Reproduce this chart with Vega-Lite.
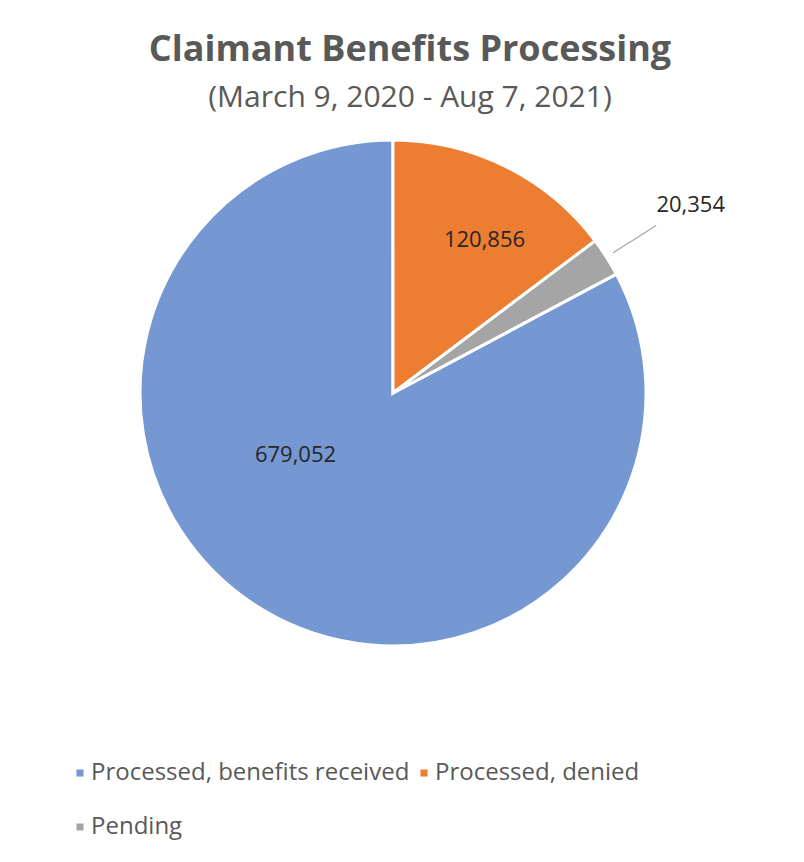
{
  "$schema": "https://vega.github.io/schema/vega-lite/v6.json",
  "autosize": {"type": "none"},
  "width": 746,
  "height": 546,
  "padding": {"left": 20, "top": 120, "right": 38, "bottom": 196},
  "background": "white",
  "config": {"view": {"stroke": null}, "font": "Open Sans"},
  "title": {
    "text": "Claimant Benefits Processing",
    "subtitle": "(March 9, 2020 - Aug 7, 2021)",
    "anchor": "middle",
    "dx": 17,
    "offset": 0,
    "font": "Open Sans",
    "fontSize": 36,
    "fontWeight": "bold",
    "color": "#595959",
    "subtitleFont": "Open Sans",
    "subtitleFontSize": 30,
    "subtitleColor": "#595959",
    "subtitlePadding": 14
  },
  "data": {
    "values": [
      {"category": "Processed, benefits received", "value": 679052},
      {"category": "Processed, denied", "value": 120856},
      {"category": "Pending", "value": 20354}
    ]
  },
  "encoding": {
    "theta": {"field": "value", "type": "quantitative", "stack": true, "scale": {"range": [1.0816, 7.3648]}},
    "order": {"field": "value", "type": "quantitative", "sort": "descending"}
  },
  "layer": [
    {
      "mark": {"type": "arc", "outerRadius": 253, "stroke": "white", "strokeWidth": 3},
      "encoding": {
        "color": {
          "field": "category",
          "type": "nominal",
          "scale": {
            "domain": ["Processed, benefits received", "Processed, denied", "Pending"],
            "range": ["#7597D2", "#ED7D31", "#A5A5A5"]
          },
          "legend": {
            "title": null,
            "orient": "none",
            "legendX": 48,
            "legendY": 641,
            "columns": 2,
            "direction": "horizontal",
            "symbolType": "square",
            "symbolSize": 50,
            "symbolStrokeWidth": 0,
            "labelFont": "Open Sans",
            "labelFontSize": 24,
            "labelColor": "#595959",
            "labelOffset": -1,
            "labelLimit": 500,
            "rowPadding": 30,
            "columnPadding": 2
          }
        }
      }
    },
    {
      "mark": {"type": "arc", "innerRadius": 261, "outerRadius": 312, "padAngle": 1, "fill": null, "strokeWidth": 1.2},
      "encoding": {
        "stroke": {"condition": {"test": "datum.category === 'Pending'", "value": "#A5A5A5"}, "value": null}
      }
    },
    {
      "mark": {
        "type": "text",
        "font": "Open Sans",
        "fontSize": 22,
        "color": "#262626",
        "radius": {"expr": "datum.category === 'Pending' ? 353 : datum.category === 'Processed, denied' ? 178 : 102"},
        "dx": {"expr": "datum.category === 'Processed, benefits received' ? -45 : datum.category === 'Processed, denied' ? 12 : 0"},
        "dy": {"expr": "datum.category === 'Processed, benefits received' ? -25 : datum.category === 'Processed, denied' ? 6 : 2"}
      },
      "encoding": {
        "text": {"field": "value", "type": "quantitative", "format": ","}
      }
    }
  ]
}
